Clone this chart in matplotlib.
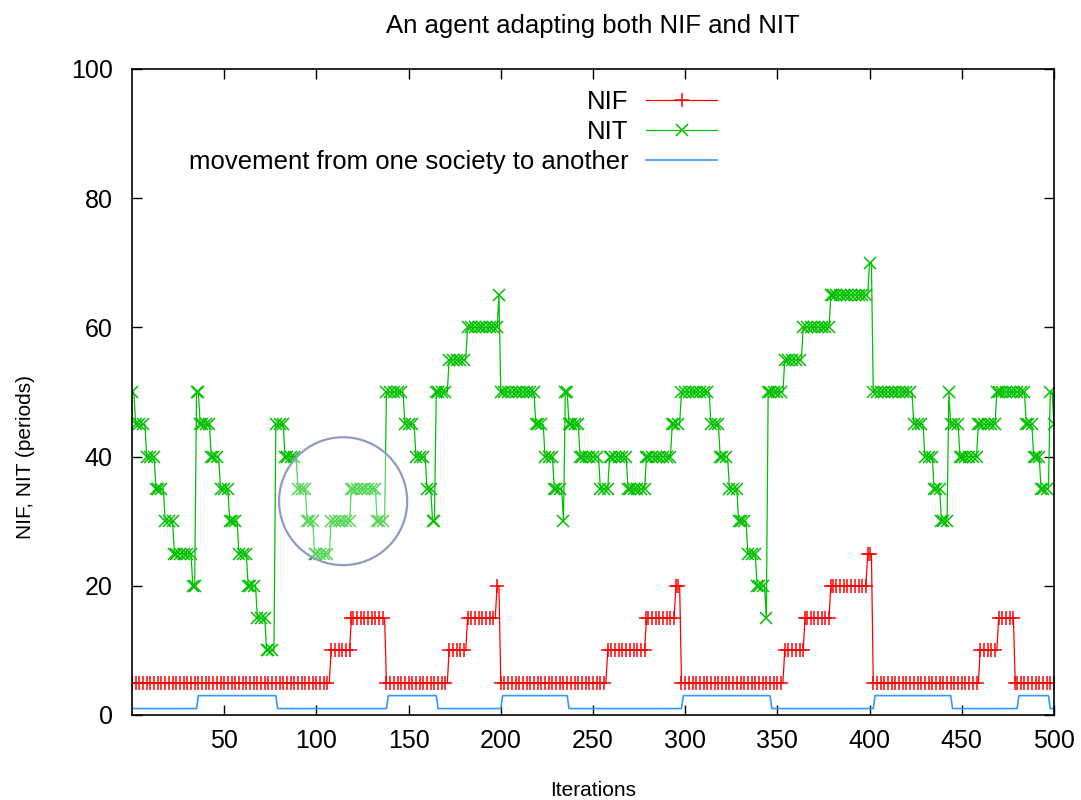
import numpy as np
import matplotlib
matplotlib.use("Agg")
import matplotlib.pyplot as plt
from matplotlib.patches import Ellipse

plt.rcParams['font.family'] = ['Liberation Sans', 'DejaVu Sans']

# step series: value of each level and the iteration where it starts (last entry = end)
nif_levels = [5, 10, 15, 5, 10, 15, 20, 5, 10, 15, 20, 5, 10, 15, 20, 25, 5, 10, 15, 5]
nif_starts = [0, 108, 119, 138, 172, 182, 198, 200, 258, 279, 295, 298, 354, 365, 379, 399,
              402, 460, 470, 479, 501]

nit_levels = [50, 45, 40, 35, 30, 25, 20, 50, 45, 40, 35, 30, 25, 20, 15, 10,
              45, 40, 35, 30, 25, 30, 35, 30, 50, 45, 40, 35, 30,
              50, 55, 60, 65, 50, 45, 40, 35, 30, 50, 45, 40, 35, 40, 35, 40, 45,
              50, 45, 40, 35, 30, 25, 20, 15, 50, 55, 60, 65, 70,
              50, 45, 40, 35, 30, 50, 45, 40, 45, 50, 45, 40, 35, 50, 45]
nit_starts = [0, 2, 8, 13, 18, 23, 33, 35, 37, 43, 48, 53, 58, 63, 68, 73,
              78, 83, 90, 95, 99, 108, 119, 133, 138, 148, 154, 160, 163,
              165, 172, 182, 199, 200, 219, 224, 229, 234, 235, 237, 243, 254, 259, 269, 279, 293,
              298, 314, 319, 324, 329, 334, 339, 344, 345, 354, 364, 379, 400,
              402, 424, 430, 435, 439, 443, 444, 449, 459, 469, 485, 489, 493, 498, 500, 501]

move_levels = [1, 3, 1, 3, 1, 3, 1, 3, 1, 3, 1, 3, 1]
move_starts = [0, 36, 79, 139, 166, 201, 237, 299, 347, 403, 445, 481, 498, 501]


def expand(levels, starts):
    return np.repeat(levels, np.diff(starts))


def marks(starts):
    return sorted(set(range(0, 501, 2)) | set(starts[:-1]))


iters = np.arange(0, 501)
nif = expand(nif_levels, nif_starts)
nit = expand(nit_levels, nit_starts)
move = expand(move_levels, move_starts)

fig = plt.figure(figsize=(10.81, 8), dpi=100)
ax = fig.add_axes([0.1221, 0.10625, 0.8529, 0.8075])

ax.plot(iters, nif, color='#ff0000', lw=0.9, marker='+', markevery=marks(nif_starts),
        markersize=9.5, markeredgewidth=1.1, label='NIF')
ax.plot(iters, nit, color='#00c000', lw=0.9, marker='x', markevery=marks(nit_starts),
        markersize=8, markeredgewidth=1.1, label='NIT')
ax.plot(iters, move, color='#3399ff', lw=1.2,
        label='movement from one society to another')

# highlight circle
ax.add_patch(Ellipse((114.5, 33.1), 69.5, 19.8, facecolor='white', alpha=0.35,
                     edgecolor='none', zorder=5))
ax.add_patch(Ellipse((114.5, 33.1), 69.5, 19.8, facecolor='none',
                     edgecolor='#8f9cc0', lw=1.6, zorder=6))

ax.set_xlim(0, 500)
ax.set_ylim(0, 100)
ax.set_xticks(range(50, 501, 50))
ax.set_yticks(range(0, 101, 20))
ax.tick_params(direction='in', top=True, right=True, length=7, width=1,
               labelsize=18, colors='black')
ax.tick_params(axis='y', pad=14)
ax.tick_params(axis='x', pad=10)
for s in ax.spines.values():
    s.set_linewidth(1.2)

ax.set_title('An agent adapting both NIF and NIT', fontsize=18.5, pad=26)
ax.set_xlabel('Iterations', fontsize=15, labelpad=20)
ax.set_ylabel('NIF, NIT (periods)', fontsize=15)
ax.yaxis.set_label_coords(-0.105, 0.40)

ax.legend(loc='upper right', bbox_to_anchor=(0.654, 0.995), markerfirst=False,
          frameon=False, fontsize=18.5, handlelength=2.75, handletextpad=0.7,
          labelspacing=0.22, borderpad=0.2)

fig.savefig('out.png', dpi=100)
